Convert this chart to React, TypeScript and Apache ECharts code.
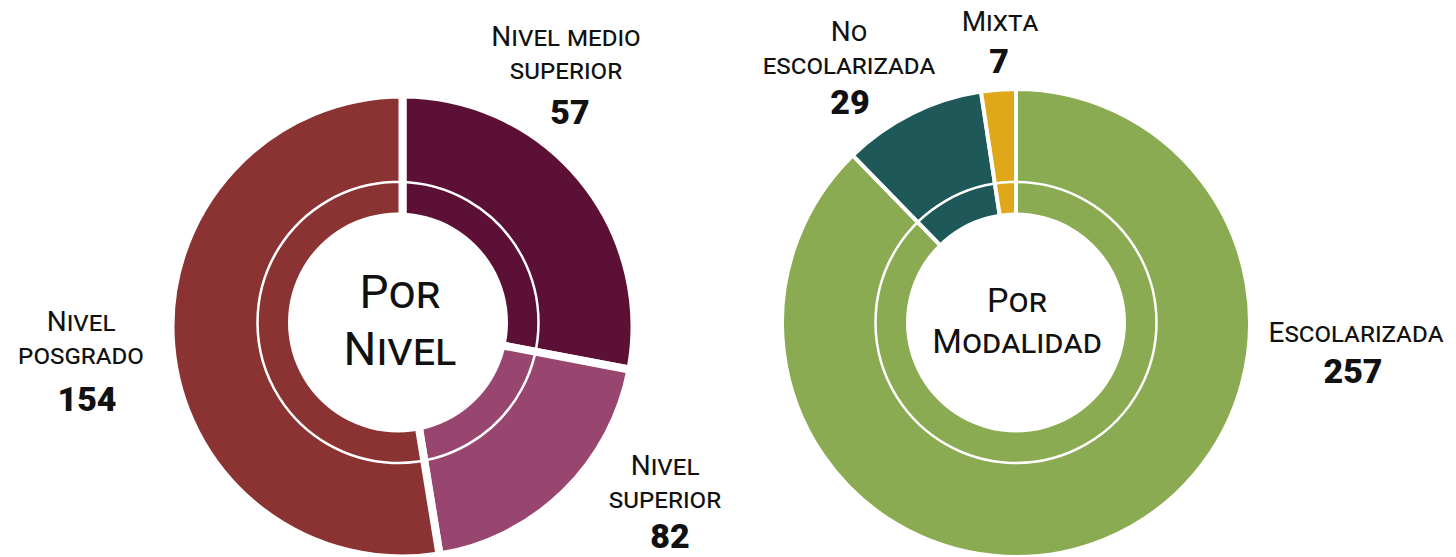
import React, { useEffect, useRef } from 'react';
import * as echarts from 'echarts';

// ---- Data ----
// Left donut ("Por Nivel"), slices clockwise from 12 o'clock
const nivelCategories = ['Nivel superior', 'Nivel medio superior', 'Nivel posgrado'];
const nivelValues = [82, 57, 154];
const nivelColors = ['#5C1035', '#98466F', '#8B3333'];

// Right donut ("Por Modalidad"), slices clockwise from 12 o'clock
const modalidadCategories = ['Escolarizada', 'No escolarizada', 'Mixta'];
const modalidadValues = [257, 29, 7];
const modalidadColors = ['#8AAB51', '#1F5858', '#E0A818'];

const centerTitles = ['Por\nNivel', 'Por\nModalidad'];

// ---- Layout (page pixels) ----
const FONT = 'Roboto';
const K = 0.342; // central-baseline offset factor for the font
const LABEL_F = 28;
const NUM_F = 34;
const LINE_H = 33;

const nivelLabelLayout = [
  { x: 665, y1: 475, nx: 670, ny: 548, wrap: 1 },
  { x: 566, y1: 46, nx: 570, ny: 124, wrap: 2 },
  { x: 81, y1: 331, nx: 87, ny: 411, wrap: 1 },
];
const modalidadLabelLayout = [
  { x: 1356, y1: 342, nx: 1353, ny: 383, wrap: 1 },
  { x: 849, y1: 41, nx: 850, ny: 114, wrap: 1 },
  { x: 1000, y1: 31, nx: 999, ny: 73, wrap: 1 },
];

function wrapName(name: string, wrap: number) {
  const w = name.split(' ');
  if (w.length <= wrap) return name;
  return w.slice(0, wrap).join(' ') + '\n' + w.slice(wrap).join(' ');
}

function textEl(text: string, x: number, baseline1: number, font: string, size: number, lh: number) {
  const y = baseline1 - lh / 2 - K * size;
  return {
    type: 'text',
    z: 200,
    x,
    y,
    style: {
      text,
      font,
      fill: '#111111',
      lineHeight: lh,
      align: 'center',
      textAlign: 'center',
      verticalAlign: 'top',
      textVerticalAlign: 'top',
    },
  };
}

function labelEls(cats: string[], vals: number[], layout: any[]) {
  const els: any[] = [];
  cats.forEach((c, i) => {
    const L = layout[i];
    els.push(textEl(wrapName(c, L.wrap), L.x, L.y1, `small-caps 400 ${LABEL_F}px ${FONT}`, LABEL_F, LINE_H));
    els.push(textEl(String(vals[i]), L.nx, L.ny, `normal 900 ${NUM_F}px ${FONT}`, NUM_F, NUM_F));
  });
  return els;
}

function holeEls(cx: number, cy: number) {
  return [
    { type: 'circle', z: 150, shape: { cx, cy, r: 110 }, style: { fill: '#ffffff' } },
    { type: 'circle', z: 150, shape: { cx, cy, r: 140.5 }, style: { fill: 'none', stroke: '#ffffff', lineWidth: 2.5 } },
  ];
}

export default function App() {
  const ref = useRef<HTMLDivElement>(null);
  useEffect(() => {
    if (!ref.current) return;
    const chart = echarts.init(ref.current, undefined, { renderer: 'svg' });
    const option: any = {
      animation: false,
      backgroundColor: '#ffffff',
      series: [
        {
          type: 'pie',
          center: [402.5, 326.5],
          radius: [60, 232],
          startAngle: 90,
          clockwise: true,
          label: { show: false },
          labelLine: { show: false },
          emphasis: { disabled: true },
          itemStyle: { borderColor: '#ffffff', borderWidth: 8 },
          data: nivelCategories.map((n, i) => ({ name: n, value: nivelValues[i], itemStyle: { color: nivelColors[i] } })),
        },
        {
          type: 'pie',
          center: [1016, 323],
          radius: [60, 234],
          startAngle: 90,
          clockwise: true,
          label: { show: false },
          labelLine: { show: false },
          emphasis: { disabled: true },
          itemStyle: { borderColor: '#ffffff', borderWidth: 4 },
          data: modalidadCategories.map((n, i) => ({ name: n, value: modalidadValues[i], itemStyle: { color: modalidadColors[i] } })),
        },
      ],
      graphic: {
        elements: [
          ...holeEls(398, 322.5),
          ...holeEls(1016, 322.5),
          textEl(centerTitles[0], 400, 308, `small-caps 400 46px ${FONT}`, 46, 57),
          textEl(centerTitles[1], 1017, 312, `small-caps 400 34px ${FONT}`, 34, 41),
          ...labelEls(nivelCategories, nivelValues, nivelLabelLayout),
          ...labelEls(modalidadCategories, modalidadValues, modalidadLabelLayout),
        ],
      },
    };
    chart.setOption(option);
    return () => chart.dispose();
  }, []);
  return (
    <div
      ref={ref}
      style={{ position: 'fixed', left: 0, top: 0, width: 1456, height: 557, background: '#fff' }}
    />
  );
}
